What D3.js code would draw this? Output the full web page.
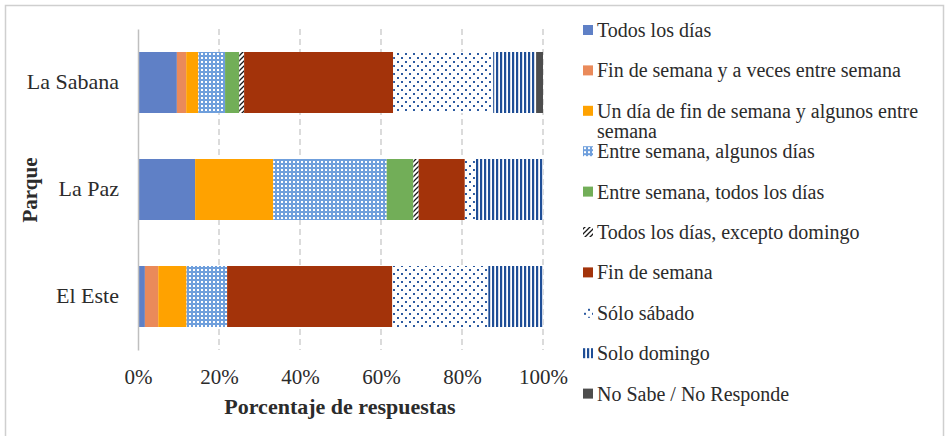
<!DOCTYPE html>
<html>
<head>
<meta charset="utf-8">
<script src="https://cdn.jsdelivr.net/npm/d3@7/dist/d3.min.js"></script>
<style>
  html, body { margin: 0; padding: 0; background: #fff; }
  svg { display: block; }
</style>
</head>
<body>
<svg id="chart" width="946" height="436"></svg>
<script>
// ---- Data ----
const categories = ["La Sabana", "La Paz", "El Este"];
const seriesNames = [
  "Todos los días",
  "Fin de semana y a veces entre semana",
  "Un día de fin de semana y algunos entre semana",
  "Entre semana, algunos días",
  "Entre semana, todos los días",
  "Todos los días, excepto domingo",
  "Fin de semana",
  "Sólo sábado",
  "Solo domingo",
  "No Sabe / No Responde"
];
const todosLosDias        = [9.6, 14.1, 1.7];
const finSemanaAVeces     = [2.3, 0.0, 3.3];
const unDiaFinAlgunos     = [3.0, 19.3, 7.0];
const entreSemanaAlgunos  = [6.6, 28.0, 10.0];
const entreSemanaTodos    = [3.5, 6.6, 0.0];
const todosExceptoDomingo = [1.2, 1.3, 0.0];
const finDeSemana         = [36.8, 11.4, 40.8];
const soloSabado          = [24.7, 2.5, 23.7];
const soloDomingo         = [10.6, 16.8, 13.5];
const noSabe              = [1.7, 0.0, 0.0];
const tickValues = [0, 20, 40, 60, 80, 100];

const seriesValues = [todosLosDias, finSemanaAVeces, unDiaFinAlgunos, entreSemanaAlgunos,
  entreSemanaTodos, todosExceptoDomingo, finDeSemana, soloSabado, soloDomingo, noSabe];

const rows = categories.map((c, i) => {
  const o = { cat: c };
  seriesNames.forEach((s, j) => { o[s] = seriesValues[j][i]; });
  return o;
});

const FONT = '"Liberation Serif"';
const TXT = "#2b2b2b";

// ---- Chart ----
const svg = d3.select("#chart");
const defs = svg.append("defs");

const pAlg = defs.append("pattern").attr("id", "pAlg").attr("patternUnits", "userSpaceOnUse")
  .attr("width", 4).attr("height", 4);
pAlg.append("rect").attr("width", 4).attr("height", 4).attr("fill", "#6f9fdc");
pAlg.append("rect").attr("x", 1).attr("y", 1).attr("width", 2).attr("height", 2).attr("fill", "#ffffff");

const pDiag = defs.append("pattern").attr("id", "pDiag").attr("patternUnits", "userSpaceOnUse")
  .attr("width", 5).attr("height", 5);
pDiag.append("rect").attr("width", 5).attr("height", 5).attr("fill", "#ffffff");
pDiag.append("path").attr("d", "M-1,6 L6,-1 M-1,1 L1,-1 M4,6 L6,4")
  .attr("stroke", "#1a1a1a").attr("stroke-width", 1.3);

const pSab = defs.append("pattern").attr("id", "pSab").attr("patternUnits", "userSpaceOnUse")
  .attr("width", 8).attr("height", 8);
pSab.append("rect").attr("width", 8).attr("height", 8).attr("fill", "#ffffff");
pSab.append("rect").attr("x", 1).attr("y", 1).attr("width", 2).attr("height", 2).attr("fill", "#2c5aa0");
pSab.append("rect").attr("x", 5).attr("y", 5).attr("width", 2).attr("height", 2).attr("fill", "#2c5aa0");

const pDom = defs.append("pattern").attr("id", "pDom").attr("patternUnits", "userSpaceOnUse")
  .attr("width", 4).attr("height", 4);
pDom.append("rect").attr("width", 4).attr("height", 4).attr("fill", "#ffffff");
pDom.append("rect").attr("x", 0).attr("y", 0).attr("width", 2.2).attr("height", 4).attr("fill", "#1f4e96");

const fills = ["#5f80c6", "#ea8a5a", "#ffa200", "url(#pAlg)", "#72ae58",
  "url(#pDiag)", "#a3330a", "url(#pSab)", "url(#pDom)", "#4d4d4d"];
const color = d3.scaleOrdinal().domain(seriesNames).range(fills);

svg.append("rect").attr("x", 5.5).attr("y", 5.5).attr("width", 938).attr("height", 440)
  .attr("fill", "none").attr("stroke", "#cfcfcf").attr("stroke-width", 1.5);

const x = d3.scaleLinear().domain([0, 100]).range([138, 543]);
const y = d3.scaleBand().domain(categories).range([29, 350])
  .paddingInner(0.43).paddingOuter(0.215);

svg.append("g").selectAll("line").data(tickValues.filter(d => d > 0)).join("line")
  .attr("x1", d => x(d)).attr("x2", d => x(d))
  .attr("y1", 29).attr("y2", 350)
  .attr("stroke", "#c4c4c4").attr("stroke-width", 1.2).attr("stroke-dasharray", "6,4");

const stack = d3.stack().keys(seriesNames)(rows);
svg.append("g").selectAll("g").data(stack).join("g")
  .attr("fill", d => color(d.key))
  .selectAll("rect").data(d => d).join("rect")
  .attr("x", d => x(d[0]))
  .attr("y", d => y(d.data.cat))
  .attr("width", d => Math.max(0, x(d[1]) - x(d[0])))
  .attr("height", y.bandwidth());

const xAxis = svg.append("g").attr("transform", "translate(0,350)")
  .call(d3.axisBottom(x).tickValues(tickValues).tickFormat(d => d + "%").tickSize(0).tickPadding(0));
xAxis.select(".domain").remove();
xAxis.selectAll("text").attr("dy", null).attr("y", 34).style("font-size", "21px");

const yAxis = svg.append("g").attr("transform", "translate(138,0)")
  .call(d3.axisLeft(y).tickSize(0).tickPadding(19));
yAxis.select(".domain").attr("stroke", "#bfbfbf").attr("stroke-width", 1.5);
yAxis.selectAll("text").attr("dy", "0.3em").style("font-size", "22px");

svg.append("text").attr("x", 340).attr("y", 414).attr("text-anchor", "middle")
  .style("font-size", "22px").style("font-weight", "bold").text("Porcentaje de respuestas");
svg.append("text").attr("transform", "translate(37,190) rotate(-90)").attr("text-anchor", "middle")
  .style("font-size", "21px").style("font-weight", "bold").text("Parque");

const legendLines = [
  ["Todos los días"],
  ["Fin de semana y a veces entre semana"],
  ["Un día de fin de semana y algunos entre", "semana"],
  ["Entre semana, algunos días"],
  ["Entre semana, todos los días"],
  ["Todos los días, excepto domingo"],
  ["Fin de semana"],
  ["Sólo sábado"],
  ["Solo domingo"],
  ["No Sabe / No Responde"]
];
const lg = svg.append("g").selectAll("g").data(seriesNames).join("g")
  .attr("transform", (d, i) => `translate(583,${37 + i * 40.4})`);
lg.append("rect").attr("x", 0).attr("y", -12).attr("width", 10).attr("height", 10)
  .attr("fill", d => color(d));
lg.append("text").attr("x", 14).attr("y", 0).style("font-size", "20px")
  .selectAll("tspan").data((d, i) => legendLines[i]).join("tspan")
  .attr("x", 14).attr("dy", (d, j) => j === 0 ? 0 : 20).text(d => d);

svg.selectAll("text").attr("font-family", null)
  .style("font-family", FONT).style("fill", TXT);
svg.selectAll("g").attr("font-family", null);
</script>
</body>
</html>
